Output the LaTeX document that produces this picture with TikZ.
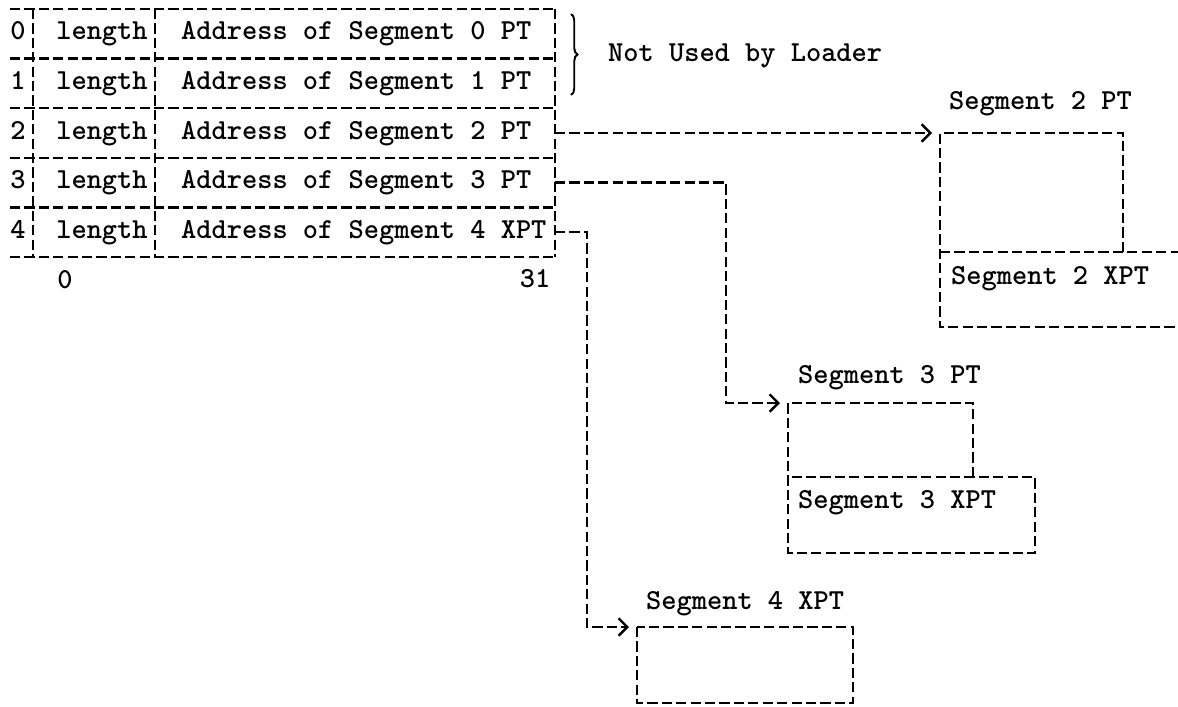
\documentclass[tikz,border=0pt]{standalone}
\usetikzlibrary{arrows.meta, decorations.pathreplacing}

\begin{document}
\begin{tikzpicture}[
                x=0.02cm, y=-0.02cm,
                line width=1.35pt,
                dashline/.style={dash pattern=on 5.8pt off 2.4pt},
                lbl/.style={font=\ttfamily\bfseries\fontsize{16.5}{18}\selectfont,
                    inner sep=0pt, text height=1.6ex, text depth=0pt},
                ptr/.style={dashline, -{Straight Barb[length=5pt, width=10pt]},
                    shorten >=0.16cm}
            ]
                \useasboundingbox (0,0) rectangle (1178,707);
                % segment table
                \foreach \i/\t in {0/PT, 1/PT, 2/PT, 3/PT, 4/XPT} {
                    \pgfmathsetmacro{\ytop}{9+49.6*\i}
                    \pgfmathsetmacro{\yc}{\ytop+24.8}
                    \draw[dashline] (10,\ytop) -- (555,\ytop);
                    \node[lbl] (idx\i) at (18,\yc) {\i};
                    \node[lbl] (len\i) at (102,\yc) {length};
                    \node[lbl, anchor=west] (addr\i) at (180,\yc) {Address of Segment \i\ \t};
                    \coordinate (out\i) at (555,\yc);
                }
                \draw[dashline] (10,257) -- (555,257);
                \draw[dashline] (33,9) -- (33,257);
                \draw[dashline] (155,9) -- (155,257);
                \draw[dashline] (555,9) -- (555,257);
                \node[lbl] (bit0)  at (65,282)  {0};
                \node[lbl] (bit31) at (535,281) {31};
                % brace
                \coordinate (brtop) at (571,14);
                \coordinate (brbot) at (571,95);
                \draw[line width=1.1pt, decorate, decoration={brace, amplitude=0.13cm}] (brtop) -- (brbot);
                \node[lbl, anchor=west] (unused) at (607,55) {Not Used by Loader};
                % segment 2
                \coordinate (seg2pt) at (940,133);
                \draw[dashline] (1123,252) |- (seg2pt) -- (940,327) -- (1178,327);
                \draw[dashline] (940,252) -- (1178,252);
                \node[lbl, anchor=west] (lab2pt)  at (948,103) {Segment 2 PT};
                \node[lbl, anchor=west] (lab2xpt) at (950,278) {Segment 2 XPT};
                % segment 3
                \coordinate (seg3pt) at (788,403);
                \draw[dashline] (973,477) |- (seg3pt) -- (788,553) -| (1035,477) -- (788,477);
                \node[lbl, anchor=west] (lab3pt)  at (797,377) {Segment 3 PT};
                \node[lbl, anchor=west] (lab3xpt) at (797,502) {Segment 3 XPT};
                % segment 4
                \coordinate (seg4xpt) at (637,627);
                \draw[dashline] (seg4xpt) rectangle ++(216,76);
                \node[lbl, anchor=west] (lab4xpt) at (645,603) {Segment 4 XPT};
                % pointers
                \draw[ptr] (out2) -- (seg2pt);
                \draw[ptr] (out3) -- ++(171,0) |- (seg3pt);
                \draw[ptr] (out4) -- ++(32,0) |- (seg4xpt);
            \end{tikzpicture}
\end{document}
